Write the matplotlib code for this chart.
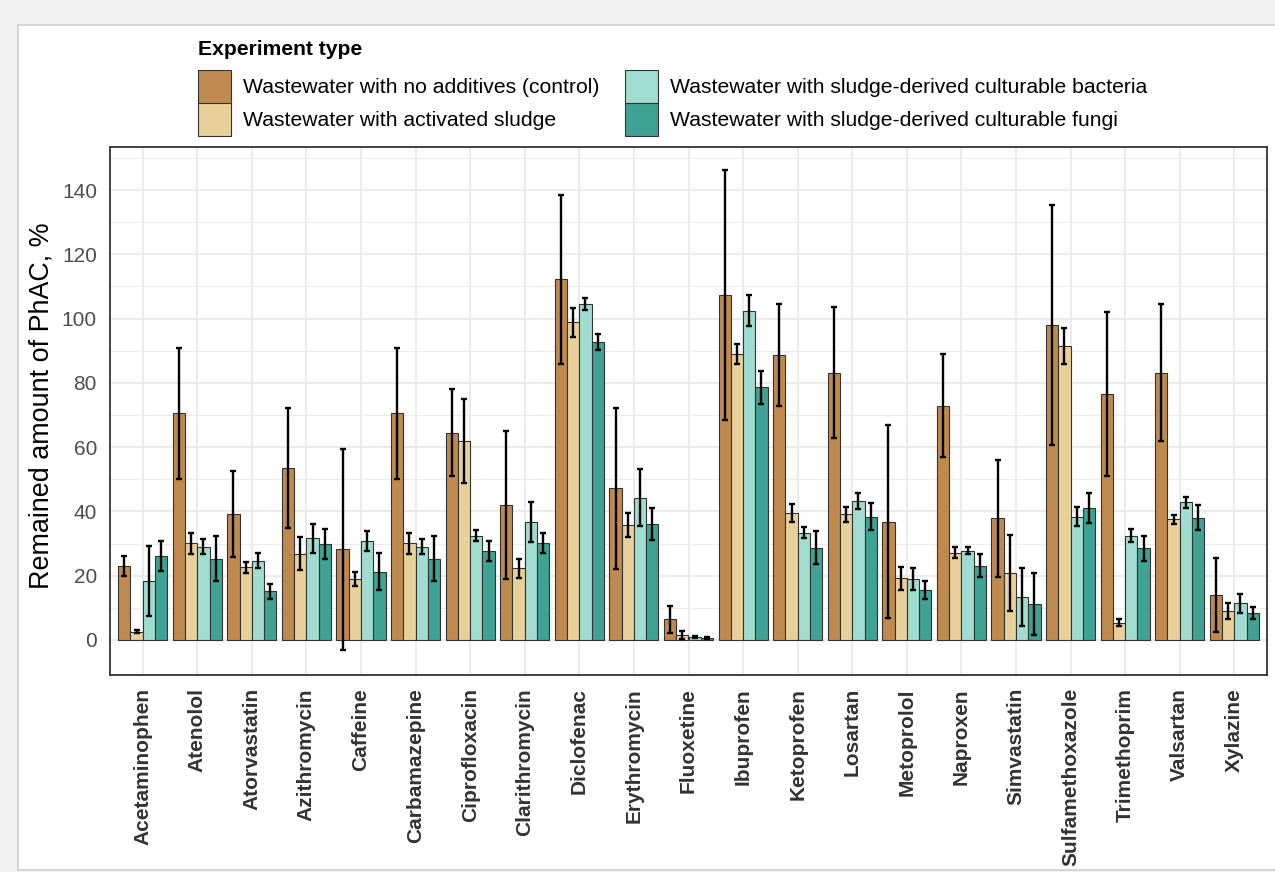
import numpy as np
import matplotlib
matplotlib.use("Agg")
import matplotlib.pyplot as plt
from matplotlib.patches import Patch, Rectangle

plt.rcParams["font.family"] = ["Liberation Sans", "DejaVu Sans"]

compounds = ["Acetaminophen", "Atenolol", "Atorvastatin", "Azithromycin", "Caffeine",
             "Carbamazepine", "Ciprofloxacin", "Clarithromycin", "Diclofenac", "Erythromycin",
             "Fluoxetine", "Ibuprofen", "Ketoprofen", "Losartan", "Metoprolol", "Naproxen",
             "Simvastatin", "Sulfamethoxazole", "Trimethoprim", "Valsartan", "Xylazine"]

experiments = ["Wastewater with no additives (control)",
               "Wastewater with activated sludge",
               "Wastewater with sludge-derived culturable bacteria",
               "Wastewater with sludge-derived culturable fungi"]

# mean remaining amount, %
control = [23.0, 70.5, 39.2, 53.4, 28.2, 70.5, 64.5, 42.0, 112.2, 47.2,
           6.5, 107.2, 88.6, 83.2, 36.8, 72.9, 37.9, 98.0, 76.5, 83.2, 14.0]
sludge = [2.6, 30.1, 22.6, 26.9, 18.9, 30.1, 62.0, 22.3, 98.8, 35.8,
          1.6, 89.0, 39.4, 39.1, 19.2, 27.2, 20.9, 91.5, 5.4, 37.5, 9.0]
bacteria = [18.4, 29.0, 24.7, 31.6, 30.8, 29.0, 32.5, 36.8, 104.5, 44.3,
            0.8, 102.5, 33.4, 43.1, 19.0, 27.7, 13.5, 38.4, 32.5, 42.8, 11.4]
fungi = [26.1, 25.2, 15.2, 29.8, 21.3, 25.2, 27.7, 30.3, 92.6, 36.1,
         0.7, 78.6, 28.7, 38.4, 15.4, 23.1, 11.2, 41.0, 28.5, 38.1, 8.5]

# standard deviations
control_sd = [3.1, 20.5, 13.4, 18.7, 31.2, 20.5, 13.6, 23.1, 26.4, 25.0,
              4.2, 38.9, 15.9, 20.4, 30.1, 16.1, 18.2, 37.2, 25.6, 21.4, 11.5]
sludge_sd = [0.5, 3.3, 1.7, 5.0, 2.1, 3.3, 13.0, 3.0, 4.5, 3.7,
             1.2, 3.1, 2.8, 2.3, 3.6, 1.7, 11.8, 5.5, 1.0, 1.4, 2.5]
bacteria_sd = [10.9, 2.3, 2.4, 4.4, 3.1, 2.3, 1.6, 6.2, 1.8, 8.8,
               0.3, 4.8, 1.7, 2.5, 3.3, 1.1, 9.0, 2.9, 2.1, 1.6, 3.0]
fungi_sd = [4.6, 7.0, 2.3, 4.7, 5.7, 7.0, 3.2, 3.1, 2.5, 5.0,
            0.3, 5.2, 5.2, 4.2, 2.8, 3.5, 9.5, 4.7, 4.0, 3.9, 1.9]

colors = ["#BF8A4F", "#E8D09A", "#A1DCD0", "#3FA292"]

means = [control, sludge, bacteria, fungi]
sds = [control_sd, sludge_sd, bacteria_sd, fungi_sd]

fig = plt.figure(figsize=(12.75, 8.72), dpi=100, facecolor="#F1F1F1")
fig.patches.append(Rectangle((18 / 1275, 2 / 872), 1.0, 1 - 27 / 872,
                             transform=fig.transFigure, facecolor="white",
                             edgecolor="#D0D0D0", linewidth=1.2, zorder=-10))

ax = fig.add_axes([110 / 1275, 1 - 675 / 872, 1157 / 1275, 528 / 872])

x = np.arange(len(compounds))
width = 0.9 / 4
for i in range(4):
    pos = x + (i - 1.5) * width
    ax.bar(pos, means[i], width=width, color=colors[i], edgecolor="#333333",
           linewidth=0.8, zorder=3, label=experiments[i])
    ax.errorbar(pos, means[i], yerr=sds[i], fmt="none", ecolor="black",
                elinewidth=1.7, capsize=2.2, capthick=1.7, zorder=4)

ax.set_xlim(-0.6, len(compounds) - 0.4)
ax.set_ylim(-10.9, 153.4)
ax.set_yticks(np.arange(0, 141, 20))
ax.set_yticks(np.arange(10, 151, 20), minor=True)
ax.set_xticks(x)
ax.set_xticklabels(compounds, rotation=90, fontweight="bold", fontsize=15,
                   color="#333333")
ax.tick_params(axis="y", labelsize=15, labelcolor="#4D4D4D", length=0, pad=9.4)
ax.tick_params(axis="y", which="minor", length=0)
ax.tick_params(axis="x", length=0, pad=9.4)

ax.grid(True, which="major", color="#EBEBEB", linewidth=1.5, zorder=0)
ax.grid(True, which="minor", axis="y", color="#EBEBEB", linewidth=0.8, zorder=0)
ax.set_axisbelow(True)
for s in ax.spines.values():
    s.set_color("#333333")
    s.set_linewidth(1.3)

ax.set_ylabel("Remained amount of PhAC, %", fontsize=19.4, labelpad=5)
ax.yaxis.label.set_y(0.51)

# legend: 33 px keys stacked with no gap (handleheight chosen for that)
handles = [Patch(facecolor=c, edgecolor="#333333", linewidth=0.8) for c in colors]
fs = 15.2
fs_px = fs * 100 / 72
key_pt = 33 * 72 / 100
leg = fig.legend(handles, experiments, loc="upper left",
                 bbox_to_anchor=(198 / 1275, 1 - 40 / 872), ncol=2, frameon=False,
                 fontsize=fs, title="Experiment type",
                 title_fontproperties={"weight": "bold", "size": fs},
                 alignment="left", handlelength=33 / fs_px,
                 handleheight=(key_pt / fs - 0.245) / 0.65,
                 handletextpad=12 / fs_px, columnspacing=26 / fs_px,
                 labelspacing=0, borderpad=0, borderaxespad=0)
leg._legend_box.sep = 7.6

fig.savefig("out.png", dpi=100, facecolor=fig.get_facecolor())
